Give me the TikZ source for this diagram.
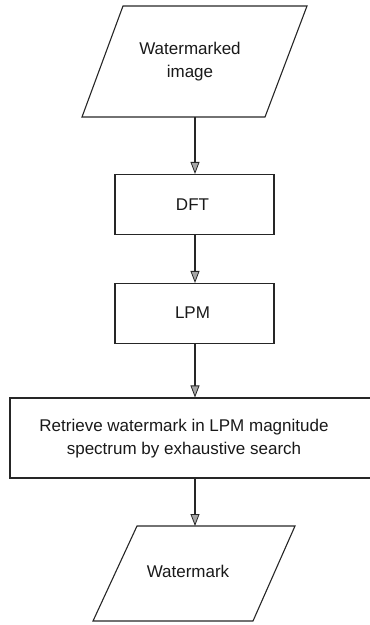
\documentclass[tikz,border=0pt]{standalone}
\usepackage{fontspec}
\setmainfont{Liberation Sans}
\usetikzlibrary{arrows.meta}
\tikzset{
  outl/.style={line width=1.1pt, draw=black!85, line join=miter},
  procbox/.style={outl, rectangle, minimum width=159pt, minimum height=60pt, inner sep=0pt},
  lbl/.style={font=\fontsize{17}{23}\selectfont, align=center, inner sep=0pt, text=black!90},
  flow/.style={line width=1.1pt, draw=black!85, -{Triangle[length=12pt,width=9pt,fill=gray!70,line width=0.8pt]}}
}
\begin{document}
\begin{tikzpicture}[x=1pt,y=-1pt]
\useasboundingbox (0,0) rectangle (370,625);
\clip (0,0) rectangle (370,625);
% top parallelogram
\draw[outl] (123,6) -- (307,6) -- (265,117) -- (82,117) -- cycle;
\node[lbl] (wimg) at (190,62) {Watermarked\\image};
\coordinate (wimgB) at (195,117);
% DFT
\node[procbox] (dft) at (194.5,204.5) {};
\node[lbl] (dftT) at (192.5,205) {DFT};
% LPM
\node[procbox] (lpm) at (194.5,313.5) {};
\node[lbl] (lpmT) at (192.5,313) {LPM};
% big box
\node[outl, rectangle, minimum width=380pt, minimum height=80pt, inner sep=0pt] (ret) at (200,438) {};
\node[lbl] (retT) at (184,438.5) {Retrieve watermark in LPM magnitude\\spectrum by exhaustive search};
% bottom parallelogram
\draw[outl] (137,526) -- (295,526) -- (253,621) -- (93,621) -- cycle;
\node[lbl] (wm) at (188,571) {Watermark};
\coordinate (wmT) at (195,526);
% connectors
\draw[flow] (wimgB) -- (wimgB |- dft.north);
\draw[flow] (wimgB |- dft.south) -- (wimgB |- lpm.north);
\draw[flow] (wimgB |- lpm.south) -- (wimgB |- ret.north);
\draw[flow] (wimgB |- ret.south) -- (wmT);
\end{tikzpicture}
\end{document}
